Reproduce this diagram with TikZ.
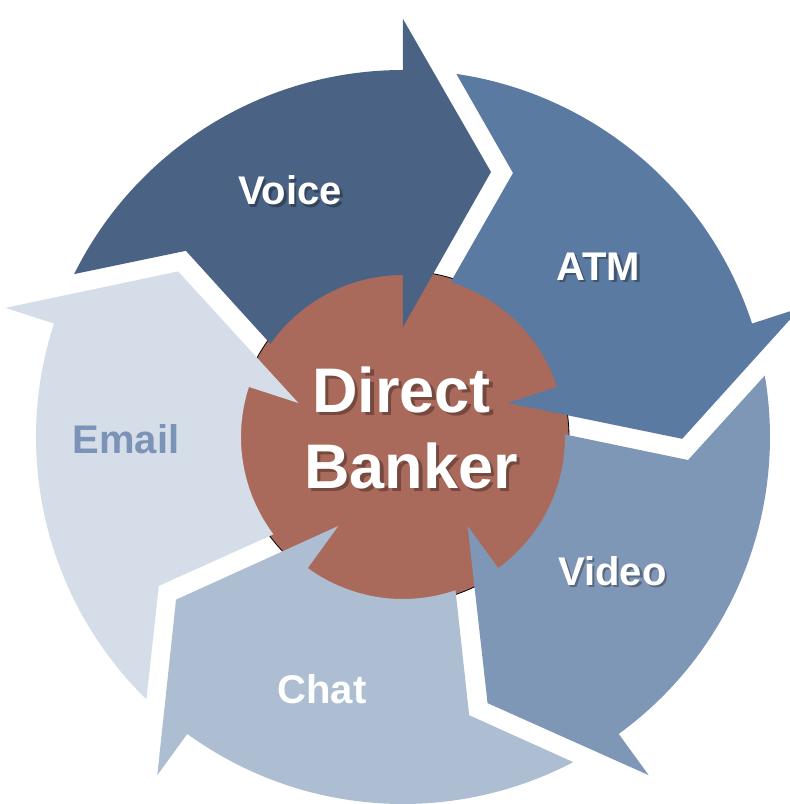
\documentclass[tikz,border=0pt]{standalone}
\usepackage{fontspec}
\setmainfont{Liberation Sans}
\definecolor{voicecol}{HTML}{4A6385}
\definecolor{atmcol}{HTML}{5B7AA2}
\definecolor{videocol}{HTML}{7F97B6}
\definecolor{chatcol}{HTML}{AEBED2}
\definecolor{emailcol}{HTML}{D5DEE8}
\definecolor{bankcol}{HTML}{AA6A5B}
\definecolor{emailtxt}{HTML}{7B93B6}
\newcommand{\cyclearrowpath}{(0,110) -- (88,265) -- (0,418) -- (0,367)
  arc[start angle=90, end angle=153.64, radius=367]
  -- (-217.09,186.19) -- (-132.55,93.14)
  arc[start angle=144.91, end angle=90, radius=162] -- cycle}
\tikzset{
  lbl/.style={font=\bfseries\fontsize{40}{48}\selectfont, text=white, inner sep=0pt, anchor=base},
  biglbl/.style={font=\bfseries\fontsize{63}{76}\selectfont, text=white, inner sep=0pt, anchor=base},
  shd/.style={text=black, opacity=0.3},
}
\begin{document}
\begin{tikzpicture}[x=1pt,y=1pt]
\useasboundingbox (-403,-367) rectangle (387,437);
% central circle
\node[circle, draw=black, line width=0.8pt, fill=bankcol, minimum size=332pt, inner sep=0pt] (hub) at (0,0) {};
% arrows
\fill[voicecol] \cyclearrowpath;
\fill[atmcol, rotate=-72] \cyclearrowpath;
\fill[videocol, rotate=-144] \cyclearrowpath;
\fill[chatcol, rotate=-216] \cyclearrowpath;
\fill[emailcol, rotate=-288] \cyclearrowpath;
% text shadows
\node[lbl, shd] (voiceshd) at (-110.5,229.5) {Voice};
\node[lbl, shd] (atmshd) at (197.5,154.5) {ATM};
\node[lbl, shd] (videoshd) at (212,-150.5) {Video};
\node[biglbl, shd] (directshd) at (2,21.5) {Direct};
\node[biglbl, shd] (bankershd) at (11.5,-54.5) {Banker};
% labels
\node[lbl] (voice) at (-113,232) {Voice};
\node[lbl] (atm) at (195,157) {ATM};
\node[lbl] (video) at (209.5,-148) {Video};
\node[lbl] (chat) at (-81,-266) {Chat};
\node[lbl, text=emailtxt] (email) at (-277,-16) {Email};
\node[biglbl] (direct) at (-1.5,25) {Direct};
\node[biglbl] (banker) at (8,-51) {Banker};
\end{tikzpicture}
\end{document}
